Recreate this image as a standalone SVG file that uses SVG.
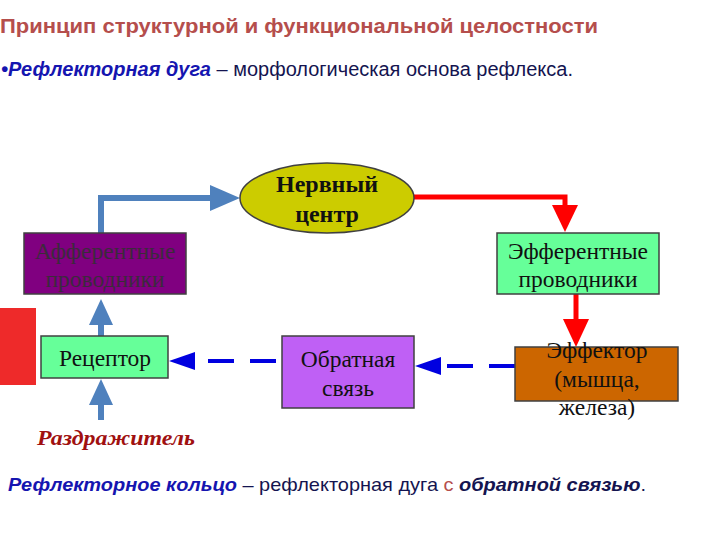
<svg xmlns="http://www.w3.org/2000/svg" width="720" height="540" viewBox="0 0 720 540">
<defs>
<style>
.sans{font-family:"Liberation Sans",Arial,sans-serif}
.serif{font-family:"Liberation Serif","Times New Roman",serif}
.box{stroke:#404040;stroke-width:1.5}
.nt{font-size:23.5px;text-anchor:middle}
.blue{stroke:#4f81bd;stroke-width:6;fill:none}
.red{stroke:#ff0000;stroke-width:5;fill:none}
.dash{stroke:#0000e0;stroke-width:4;fill:none;stroke-dasharray:26 16}
</style>
</defs>
<rect width="720" height="540" fill="#ffffff"/>
<text class="sans" x="0" y="33" font-size="21" font-weight="bold" fill="#b54e4c" textLength="598" lengthAdjust="spacingAndGlyphs">Принцип структурной и функциональной целостности</text>
<text class="sans" x="1" y="76" font-size="20" textLength="572" lengthAdjust="spacingAndGlyphs"><tspan fill="#1515b0" font-weight="bold" font-style="italic">•Рефлекторная дуга</tspan><tspan fill="#141450"> – морфологическая основа рефлекса.</tspan></text>

<g id="connectors">
<path class="blue" d="M101,233 V198 H212"/>
<polygon points="210,185 240,198 210,211" fill="#4f81bd"/>
<path class="red" d="M413,197 H565 V208"/>
<polygon points="552,205 578,205 565,232" fill="#ff0000"/>
<path class="red" d="M576,294 V322"/>
<polygon points="563,319 589,319 576,347" fill="#ff0000"/>
<path class="blue" d="M101,336 V322"/>
<polygon points="89,325 113,325 101,299" fill="#4f81bd"/>
<path class="blue" d="M101,420 V402"/>
<polygon points="89,405 113,405 101,379" fill="#4f81bd"/>
<path class="dash" d="M515,366 H440"/>
<polygon points="441,357 441,375 415,366" fill="#0000e0"/>
<path class="dash" d="M276,361 H194"/>
<polygon points="195,352 195,370 169,361" fill="#0000e0"/>
</g>

<rect x="0" y="308" width="36" height="77" fill="#ee2a2a"/>

<g id="center">
<ellipse cx="327" cy="198" rx="87" ry="35" fill="#cccc00" stroke="#404040" stroke-width="1.5"/>
<text class="serif" x="327" y="192" font-size="24" font-weight="bold" text-anchor="middle" fill="#111">Нервный</text>
<text class="serif" x="327" y="222" font-size="24" font-weight="bold" text-anchor="middle" fill="#111">центр</text>
</g>

<g id="afferent">
<rect class="box" x="24" y="233" width="162" height="61" fill="#800080"/>
<text class="serif nt" x="105" y="259" fill="#3c2a3c">Афферентные</text>
<text class="serif nt" x="105" y="287" fill="#3c2a3c">проводники</text>
</g>

<g id="efferent">
<rect class="box" x="497" y="233" width="162" height="61" fill="#66ff99"/>
<text class="serif nt" x="578" y="259" fill="#111">Эфферентные</text>
<text class="serif nt" x="578" y="287" fill="#111">проводники</text>
</g>

<g id="receptor">
<rect class="box" x="41" y="336" width="127" height="42" fill="#66ff99"/>
<text class="serif nt" x="105" y="366" fill="#111">Рецептор</text>
</g>

<g id="feedback">
<rect class="box" x="282" y="336" width="132" height="72" fill="#bf60f5"/>
<text class="serif nt" x="348" y="367" fill="#111">Обратная</text>
<text class="serif nt" x="348" y="396" fill="#111">связь</text>
</g>

<g id="effector">
<rect class="box" x="515" y="347" width="163" height="54" fill="#cc6600"/>
<text class="serif nt" x="597" y="358" fill="#111">Эффектор</text>
<text class="serif nt" x="597" y="387" fill="#111">(мышца,</text>
<text class="serif nt" x="597" y="415" fill="#111">железа)</text>
</g>

<text class="serif" x="37" y="445" font-size="21" font-weight="bold" font-style="italic" fill="#a01010" textLength="158" lengthAdjust="spacingAndGlyphs">Раздражитель</text>

<text class="sans" x="8" y="491" font-size="19" textLength="638" lengthAdjust="spacingAndGlyphs"><tspan fill="#1515b0" font-weight="bold" font-style="italic">Рефлекторное кольцо</tspan><tspan fill="#141450"> – рефлекторная дуга </tspan><tspan fill="#b54e4c">с</tspan><tspan fill="#141450" font-weight="bold" font-style="italic"> обратной связью</tspan><tspan fill="#141450">.</tspan></text>
</svg>
